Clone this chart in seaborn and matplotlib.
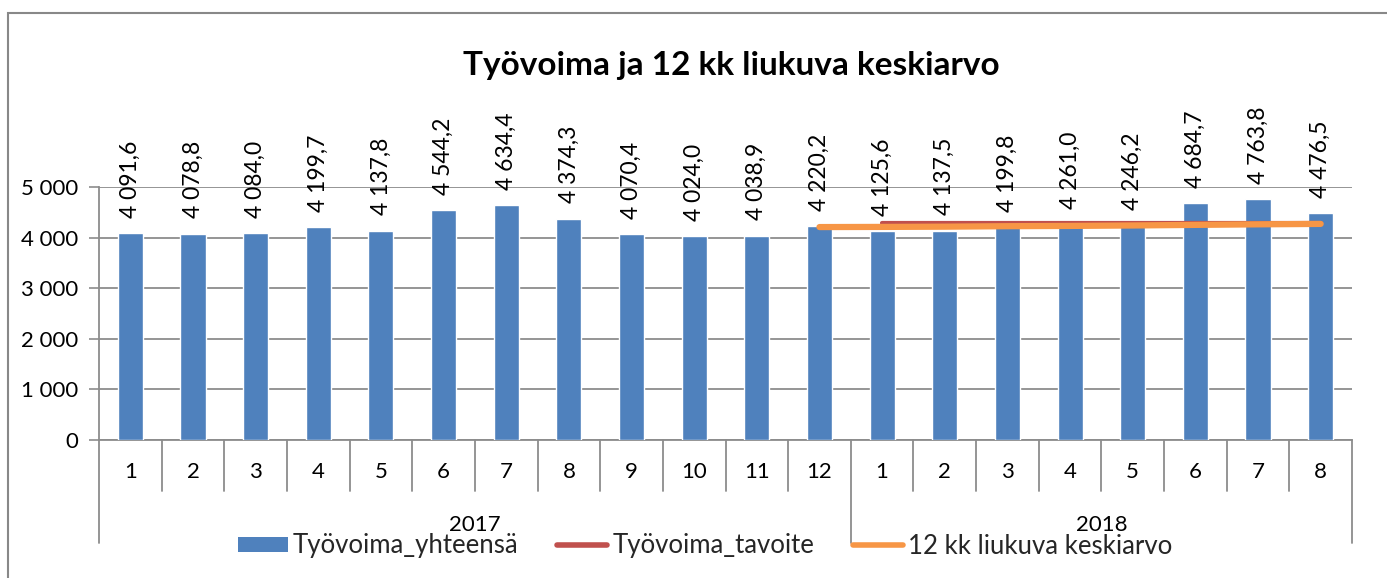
import matplotlib
matplotlib.use("Agg")
import matplotlib.pyplot as plt
from matplotlib.lines import Line2D
from matplotlib.patches import Patch, Rectangle
import matplotlib.transforms as mtransforms
import seaborn as sns
import pandas as pd

# ---- data ----
years = ["2017"] * 12 + ["2018"] * 8
months = ["1", "2", "3", "4", "5", "6", "7", "8", "9", "10", "11", "12",
          "1", "2", "3", "4", "5", "6", "7", "8"]
tyovoima = [4091.6, 4078.8, 4084.0, 4199.7, 4137.8, 4544.2, 4634.4, 4374.3,
            4070.4, 4024.0, 4038.9, 4220.2,
            4125.6, 4137.5, 4199.8, 4261.0, 4246.2, 4684.7, 4763.8, 4476.5]
tavoite = [None] * 12 + [4280, 4280, 4280, 4280, 4280, 4280, 4280, 4280]
liukuva = [None] * 11 + [4208.2, 4211.0, 4215.9, 4225.5, 4230.7, 4239.7,
                         4251.4, 4262.2, 4270.7]
yticks = [0, 1000, 2000, 3000, 4000, 5000]
ytick_labels = ["0", "1 000", "2 000", "3 000", "4 000", "5 000"]
title = "Työvoima ja 12 kk liukuva keskiarvo"
legend_labels = ["Työvoima_yhteensä", "Työvoima_tavoite", "12 kk liukuva keskiarvo"]

BLUE = "#4F81BD"
RED = "#C0504D"
ORANGE = "#F79646"
GRID = "#8C8C8C"

sns.set_theme(style="white")
plt.rcParams["font.family"] = ["Lato", "DejaVu Sans"]

df = pd.DataFrame({"key": [f"{y}-{m}" for y, m in zip(years, months)],
                   "value": tyovoima})

fig = plt.figure(figsize=(13.87, 5.78), dpi=100)
W, H = 1387, 578
ax_l, ax_r, ax_t, ax_b = 99, 1352, 187, 440
ax = fig.add_axes([ax_l / W, 1 - ax_b / H, (ax_r - ax_l) / W, (ax_b - ax_t) / H])

sns.barplot(data=df, x="key", y="value", order=list(df["key"]), color=BLUE,
            width=0.4, saturation=1, ax=ax, zorder=3)

pos = list(range(len(months)))
tv_x = [p for p, v in zip(pos, tavoite) if v is not None]
tv_y = [v for v in tavoite if v is not None]
lk_x = [p for p, v in zip(pos, liukuva) if v is not None]
lk_y = [v for v in liukuva if v is not None]
sns.lineplot(x=tv_x, y=tv_y, color=RED, linewidth=3, ax=ax, zorder=4,
             solid_capstyle="round")
sns.lineplot(x=lk_x, y=lk_y, color=ORANGE, linewidth=4.5, ax=ax, zorder=5,
             solid_capstyle="round")

FS = 16
ax.set_ylim(0, 5000)
ax.set_xlim(-0.5, len(months) - 0.5)
ax.set_yticks(yticks)
ax.set_yticklabels(ytick_labels, fontsize=FS, color="black")
ax.tick_params(axis="y", length=7, width=1.2, color=GRID, pad=8, left=True)
ax.set_xticks([])
ax.set_xlabel("")
ax.set_ylabel("")
ax.yaxis.grid(True, color=GRID, linewidth=1.3, zorder=0)
ax.set_axisbelow(True)
for s in ["top", "right"]:
    ax.spines[s].set_visible(False)
ax.spines["left"].set_color(GRID)
ax.spines["left"].set_linewidth(1.3)
ax.spines["bottom"].set_color(GRID)
ax.spines["bottom"].set_linewidth(1.3)

# data labels
for p, v in zip(pos, tyovoima):
    txt = f"{v:,.1f}".replace(",", " ").replace(".", ",")
    ax.annotate(txt, xy=(p, v), xytext=(0, 11), textcoords="offset points",
                rotation=90, ha="center", va="bottom", fontsize=16.5,
                color="black", annotation_clip=False, zorder=6)

# multi-level category axis
trans = mtransforms.blended_transform_factory(ax.transData, ax.transAxes)
ah = ax_b - ax_t
short_y = -(491 - ax_b) / ah
long_y = -(543 - ax_b) / ah
month_y = -(472 - ax_b) / ah
year_y = -(525 - ax_b) / ah
group_bounds = [0, 12, 20]
for b in range(len(months) + 1):
    ybot = long_y if b in group_bounds else short_y
    ax.add_line(Line2D([b - 0.5, b - 0.5], [0, ybot], transform=trans,
                       color=GRID, linewidth=1.3, clip_on=False))
for p, m in zip(pos, months):
    ax.text(p, month_y, m, transform=trans, ha="center", va="center",
            fontsize=FS, color="black")
uniq_years = []
for y in years:
    if y not in uniq_years:
        uniq_years.append(y)
for y in uniq_years:
    idx = [i for i, yy in enumerate(years) if yy == y]
    ax.text((idx[0] + idx[-1]) / 2, year_y, y, transform=trans, ha="center",
            va="center", fontsize=FS, color="black")

# title
fig.text(731 / W, 1 - 66 / H, title, ha="center", va="center", fontsize=24,
         fontweight="bold", color="black")

# legend
handles = [Patch(facecolor=BLUE, edgecolor="none"),
           Line2D([], [], color=RED, linewidth=4, solid_capstyle="round"),
           Line2D([], [], color=ORANGE, linewidth=4, solid_capstyle="round")]
fig.legend(handles, legend_labels, loc="center", bbox_to_anchor=(705 / W, 1 - 546 / H),
           ncol=3, frameon=False, fontsize=18.5, handlelength=1.95,
           handletextpad=0.2, columnspacing=1.5, borderpad=0, handleheight=0.55)

# outer border
fig.add_artist(Rectangle((8 / W, -0.05), 1.2, 1 - 13 / H + 0.05,
                         transform=fig.transFigure, fill=False,
                         edgecolor="#888888", linewidth=1.5))

fig.savefig("out.png", dpi=100, facecolor="white")
